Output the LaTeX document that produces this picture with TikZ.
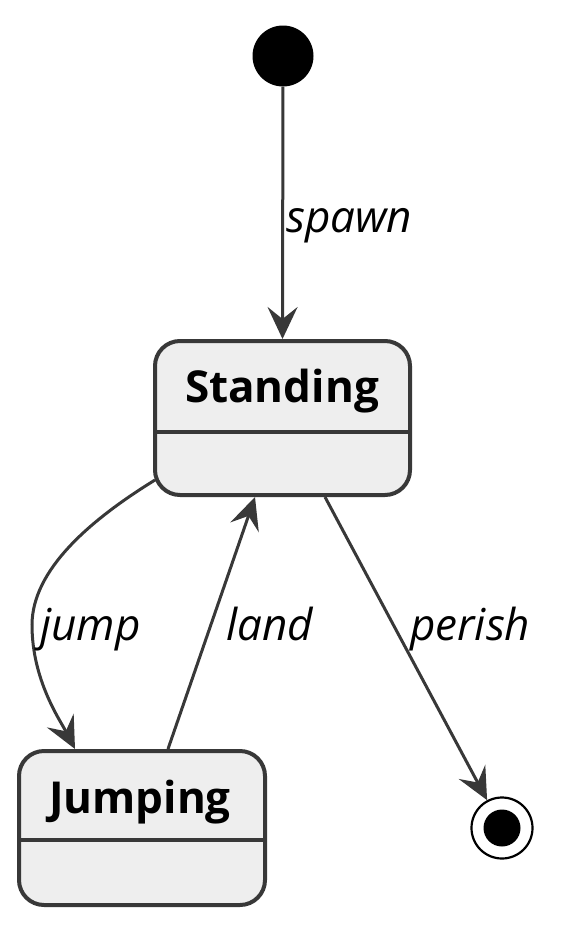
\documentclass[tikz,border=0pt]{standalone}
\usepackage{fontspec}
\setmainfont{Open Sans}
\usetikzlibrary{arrows.meta}
\definecolor{boxfill}{HTML}{EEEEEE}
\definecolor{edge}{HTML}{383838}
\begin{document}
\begin{tikzpicture}[x=1pt,y=-1pt,
  statebox/.style={draw=edge,fill=boxfill,line width=4pt,rounded corners=25pt,
    rectangle,minimum height=154pt,inner sep=0pt},
  conn/.style={draw=edge,line width=3pt,
    -{Stealth[length=32pt,width=30pt,inset=12pt]}},
  lbl/.style={anchor=base west,inner sep=0pt,font=\fontsize{44}{52}\selectfont\itshape},
  ttl/.style={anchor=base,inner sep=0pt,font=\fontsize{44}{52}\selectfont\bfseries}
]
\useasboundingbox (0,0) rectangle (567,937);
% states
\node[statebox,minimum width=255pt] (standing) at (282.5,418) {};
\node[statebox,minimum width=246pt] (jumping) at (142,828) {};
\draw[edge,line width=4pt] ([yshift=-14pt]standing.west) -- ([yshift=-14pt]standing.east);
\draw[edge,line width=4pt] ([yshift=-12pt]jumping.west) -- ([yshift=-12pt]jumping.east);
\node[ttl] (standingtxt) at (282,402) {Standing};
\node[ttl] (jumpingtxt) at (140,813) {Jumping};
% pseudo states
\node[circle,fill=black,minimum size=61pt,inner sep=0pt] (start) at (283,56) {};
\node[circle,draw=black,line width=2.2pt,fill=white,minimum size=61pt,inner sep=0pt] (final) at (502,828) {};
\node[circle,fill=black,minimum size=37pt,inner sep=0pt] (finaldot) at (final.center) {};
% connector end points
\coordinate (jumpA) at ([xshift=2pt,yshift=-62pt]standing.west);
\coordinate (jumpB) at ([xshift=-67pt]jumping.north);
\coordinate (landA) at ([xshift=26pt]jumping.north);
\coordinate (landB) at ([xshift=-27.5pt]standing.south);
\coordinate (perA) at ([xshift=42.5pt]standing.south);
% connectors
\draw[conn] (start) -- (standing.north);
\draw[conn] (jumpA) .. controls (90,520) and (32,570) .. (32,625)
   .. controls (32,680) and (60,720) .. (jumpB);
\draw[conn] (landA) -- (landB);
\draw[conn] (perA) -- (final);
% labels
\node[lbl] (spawnl) at (286,232) {spawn};
\node[lbl] (jumpl) at (40,640) {jump};
\node[lbl] (landl) at (226,640) {land};
\node[lbl] (perishl) at (410,640) {perish};
\end{tikzpicture}
\end{document}
